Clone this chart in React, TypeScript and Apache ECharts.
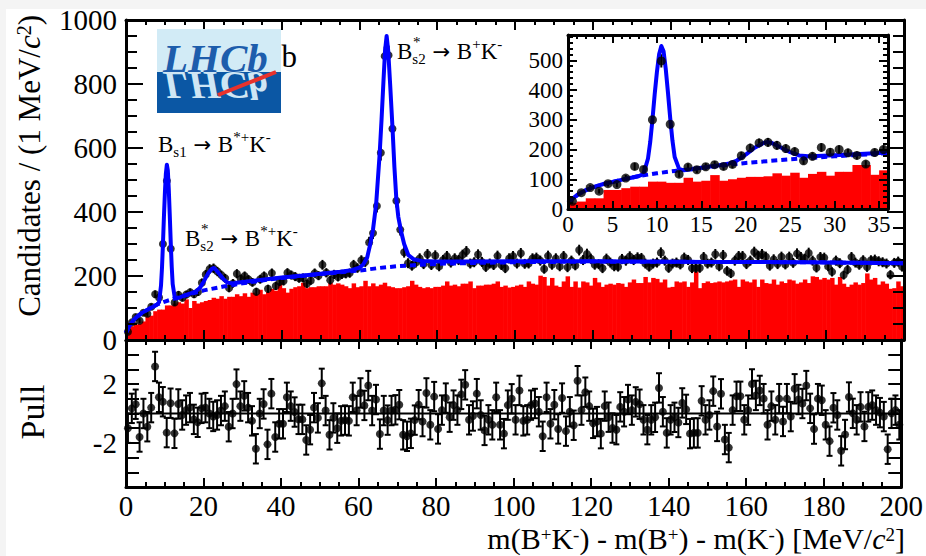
import React, { useEffect, useRef } from "react";
import * as echarts from "echarts";

const FF = "'Liberation Serif', 'Times New Roman', Times, serif";
const ARROW_FF = "'DejaVu Sans', sans-serif";

// Candidates per 1 MeV bin (bin i covers [i, i+1) MeV)
const binCounts: number[] = [
  26, 55, 72, 60, 85, 82, 104, 143, 133, 300,
  498, 285, 117, 141, 132, 142, 149, 143, 150, 179,
  205, 222, 224, 214, 203, 193, 162, 177, 207, 191,
  200, 189, 180, 151, 190, 200, 160, 209, 169, 182,
  184, 210, 203, 198, 193, 194, 176, 186, 209, 201,
  235, 210, 187, 205, 197, 205, 207, 209, 235, 225,
  249, 244, 305, 334, 419, 585, 887, 890, 660, 435,
  345, 274, 240, 232, 242, 255, 237, 268, 234, 264,
  230, 250, 262, 242, 255, 250, 266, 277, 239, 243,
  267, 244, 228, 239, 234, 263, 234, 224, 255, 262,
  239, 271, 238, 239, 255, 257, 248, 222, 263, 235,
  255, 230, 262, 227, 248, 233, 281, 250, 269, 254,
  235, 237, 224, 254, 242, 230, 229, 253, 248, 261,
  250, 258, 256, 239, 229, 239, 242, 273, 248, 225,
  239, 242, 236, 257, 250, 224, 225, 225, 259, 239,
  242, 268, 230, 265, 216, 208, 248, 262, 262, 237,
  248, 275, 263, 268, 260, 232, 252, 237, 260, 236,
  260, 241, 270, 259, 254, 272, 248, 226, 259, 257,
  230, 213, 248, 240, 203, 220, 259, 242, 235, 249,
  228, 249, 251, 246, 243, 239, 204, 241, 245, 229,
];

// Pull per bin
const pulls: number[] = [
  -1.0, 0.35, 0.63, -1.6, 0, -0.9, 0.4, 3.2, 1.1, 0.8,
  -1.3, 0.7, -1.35, 0.65, -0.1, 0.23, 0.4, -0.4, -0.6, 0.35,
  0.4, 0, -0.2, -0.1, 0.2, 0.5, -0.9, 0, 2.0, 0.5,
  1.2, 0.4, -0.5, -2.4, 0, 0.65, -2.1, 1.35, -1.6, -0.7,
  -0.7, 1.1, 0.5, 0.1, -0.4, -0.4, -1.8, -1.1, 0.4, -0.3,
  2.05, 0.2, -1.45, -0.3, -1.0, -0.5, -0.45, -0.5, 1.1, 0.2,
  1.4, 0.55, 1.9, 0.2, 0.95, -1.4, 0.2, -0.45, 0.2, 0.25,
  0.6, -1.45, -1.55, -1.35, -0.45, 0.6, -0.55, 1.4, -0.77, 1.15,
  -1.05, 0.23, 1.05, -0.25, 0.57, 0.23, 1.3, 1.95, -0.43, -0.17,
  1.35, -0.1, -1.15, -0.43, -0.77, 1.1, -0.77, -1.37, 0.57, 1.0,
  -0.43, 1.57, -0.5, -0.43, 0.57, 0.68, 0.12, -1.55, 1.1, -0.7,
  0.6, -1.05, 1.05, -1.2, 0.12, -0.8, 2.23, 0.23, 1.45, 0.5,
  -0.67, -0.55, -1.37, 0.5, -0.25, -0.99, -1.1, 0.45, 0.12, 0.95,
  0.23, 0.79, 0.63, -0.43, -1.1, -0.43, -0.26, 1.74, 0.12, -1.32,
  -0.43, -0.26, -0.61, 0.72, 0.28, -1.37, -1.32, -1.32, 0.86, -0.43,
  -0.1, 1.52, -0.88, 1.34, -1.77, -2.32, 0.23, 1.17, 1.17, -0.43,
  0.23, 2.01, 1.23, 1.57, 1.01, -0.77, 0.5, -0.43, 1.01, -0.54,
  1.01, -0.21, 1.68, 0.95, 0.68, 1.9, 0.35, -1.06, 1.01, 0.9,
  -0.77, -1.88, 0.39, -0.1, -2.54, -1.43, 1.12, 0.01, -0.43, 0.45,
  -0.88, 0.45, 0.57, 0.23, 0.06, -0.21, -2.43, 0.01, 0.23, -0.77,
];

// Red histogram (main panel)
const bkgHistMain: number[] = [
  27, 43, 48, 51, 58, 74, 76, 90, 95, 95,
  108, 108, 114, 118, 114, 127, 100, 122, 114, 118,
  122, 125, 132, 129, 137, 129, 135, 135, 143, 137,
  146, 135, 148, 143, 157, 143, 150, 160, 154, 177,
  162, 148, 160, 165, 168, 179, 162, 165, 165, 168,
  168, 168, 179, 173, 177, 173, 168, 162, 177, 165,
  168, 185, 168, 177, 168, 173, 179, 168, 165, 162,
  162, 165, 168, 185, 173, 166, 162, 165, 162, 166,
  166, 170, 183, 170, 173, 168, 176, 176, 183, 162,
  170, 170, 173, 173, 176, 183, 166, 170, 164, 166,
  170, 173, 166, 183, 176, 173, 201, 197, 170, 194,
  170, 166, 183, 199, 166, 183, 164, 183, 180, 170,
  194, 180, 166, 173, 176, 173, 178, 176, 166, 180,
  189, 178, 178, 197, 180, 194, 191, 180, 189, 164,
  166, 183, 180, 183, 166, 180, 214, 162, 178, 183,
  178, 180, 183, 180, 183, 186, 189, 166, 189, 183,
  180, 189, 166, 189, 178, 176, 189, 173, 183, 178,
  189, 186, 176, 180, 189, 178, 199, 197, 189, 194,
  189, 194, 173, 197, 176, 166, 173, 180, 173, 178,
  208, 189, 194, 173, 183, 176, 160, 162, 183, 168,
];

// Red histogram (inset, 0-36 MeV)
const bkgHistInset: number[] = [
  21, 25, 36, 36, 64, 64, 70, 75, 75, 92,
  92, 88, 88, 105, 92, 95, 114, 95, 100, 105,
  108, 108, 110, 120, 112, 122, 105, 118, 125, 112,
  125, 125, 148, 148, 115, 130,
];

// Total fit curve
const fitX: number[] = [
  0, 0.5, 1, 1.5, 2, 3, 4, 5, 6, 7, 8, 8.5, 9, 9.25, 9.5, 9.75, 10, 10.25, 10.5,
  10.75, 11, 11.25, 11.5, 11.75, 12, 12.5, 13, 14, 15, 16, 17, 18, 19, 20, 21, 22,
  22.5, 23, 24, 25, 26, 27, 28, 30, 35, 40, 45, 50, 55, 58, 60, 61, 62, 62.8, 63.5,
  64.3, 65.2, 65.7, 66.2, 66.6, 67.0, 67.4, 67.9, 68.5, 69.0, 69.5, 70.0, 70.7,
  71.5, 72.6, 74, 76, 80, 90, 100, 120, 150, 175, 200,
];
const fitY: number[] = [
  22, 35, 46, 55, 63, 75, 84, 91, 98, 104, 111, 118, 170, 225, 300, 385, 460, 520, 548,
  530, 470, 390, 305, 230, 175, 135, 130, 134, 139, 143, 147, 152, 163, 183, 206, 222,
  225, 221, 206, 191, 180, 177, 178, 181, 188, 195, 201, 207, 213, 218, 226, 236, 258, 300, 345,
  424, 580, 690, 812, 905, 950, 905, 800, 665, 540, 440, 385, 340,
  300, 265, 252, 247, 245, 245, 246, 246, 244, 243, 240,
];

// Background component (dashed)
const bkgX: number[] = [0, 1, 2, 4, 6, 8, 10, 12, 15, 20, 25, 30, 35, 40, 50, 60, 65, 70, 80, 90, 100, 120, 150, 175, 200];
const bkgY: number[] = [22, 46, 63, 84, 98, 111, 120, 128, 138, 155, 167, 177, 186, 194, 206, 217, 225, 231, 238, 241, 243, 245, 244, 243, 240];

const X_MIN = 0, X_MAX = 200, X_STEP = 20;
const Y_MIN = 0, Y_MAX = 1000, Y_STEP = 200;
const PULL_MIN = -5, PULL_MAX = 5;
const PULL_LABELS = [-2, 2];
const INSET_X_MAX = 36, INSET_X_STEP = 5;
const INSET_Y_MAX = 585, INSET_Y_STEP = 100;

const BLUE = "#0000ff";
const RED = "#ff0000";

function histRender(params: any, api: any) {
  const x0 = api.value(0);
  const x1 = api.value(1);
  const v = api.value(2);
  const p0 = api.coord([x0, 0]);
  const p1 = api.coord([x1, v]);
  return {
    type: "rect",
    shape: { x: p0[0], y: p1[1], width: p1[0] - p0[0] + 0.6, height: p0[1] - p1[1] },
    style: { fill: RED },
  };
}

function errRender(cap: number, lw: number) {
  return (params: any, api: any) => {
    const x = api.value(0);
    const lo = api.coord([x, api.value(1)]);
    const hi = api.coord([x, api.value(2)]);
    const st = { stroke: "#000", lineWidth: lw };
    const children: any[] = [
      { type: "line", shape: { x1: lo[0], y1: lo[1], x2: hi[0], y2: hi[1] }, style: st },
    ];
    if (cap > 0) {
      children.push({ type: "line", shape: { x1: lo[0] - cap, y1: lo[1], x2: lo[0] + cap, y2: lo[1] }, style: st });
      children.push({ type: "line", shape: { x1: hi[0] - cap, y1: hi[1], x2: hi[0] + cap, y2: hi[1] }, style: st });
    }
    return { type: "group", children };
  };
}

const blackLine = { color: "#000", width: 3 };
const tickLine = { color: "#000", width: 2 };

function axis(extra: any) {
  return {
    type: "value",
    axisLine: { show: true, onZero: false, lineStyle: blackLine },
    splitLine: { show: false },
    axisLabel: { show: false },
    ...extra,
  };
}

function richSet(size: number, small: number, lh: number) {
  return {
    n: { fontSize: size, fontFamily: FF, fill: "#000", lineHeight: lh },
    i: { fontSize: size, fontFamily: FF, fontStyle: "italic", fill: "#000", lineHeight: lh },
    ar: { fontSize: size * 0.92, fontFamily: ARROW_FF, fill: "#000", lineHeight: lh },
    sup: { fontSize: small, fontFamily: FF, fill: "#000", verticalAlign: "top", lineHeight: small + 2 },
    sub: { fontSize: small, fontFamily: FF, fill: "#000", verticalAlign: "bottom", lineHeight: small + 2 },
  };
}

function buildOption() {
  const mainPts = binCounts.map((n, i) => [i + 0.5, n]);
  const mainErr = binCounts.map((n, i) => [i + 0.5, n - Math.sqrt(n), n + Math.sqrt(n)]);
  const pullPts = pulls.map((p, i) => [i + 0.5, p]);
  const pullErr = pulls.map((p, i) => [i + 0.5, p - 1, p + 1]);
  const fitData = fitX.map((x, i) => [x, fitY[i]]);
  const bkgData = bkgX.map((x, i) => [x, bkgY[i]]);
  const histMain = bkgHistMain.map((v, i) => [i, i + 1, v]);
  const histInset = bkgHistInset.map((v, i) => [i, i + 1, v]);
  const insetPts = mainPts.slice(0, INSET_X_MAX);
  const insetErr = mainErr.slice(0, INSET_X_MAX);

  const labelMain = { show: true, fontSize: 29, fontFamily: FF, color: "#000", lineHeight: 26 };
  const labelInset = { show: true, fontSize: 23, fontFamily: FF, color: "#000", lineHeight: 21 };

  const mainX = {
    gridIndex: 0, min: X_MIN, max: X_MAX, interval: X_STEP, z: 4,
    axisTick: { show: true, inside: true, length: 10, lineStyle: tickLine },
    minorTick: { show: true, splitNumber: 4, length: 5, lineStyle: tickLine },
  };
  const pullX = {
    gridIndex: 1, min: X_MIN, max: X_MAX, interval: X_STEP, z: 4,
    axisTick: { show: true, inside: true, length: 9, lineStyle: tickLine },
    minorTick: { show: true, splitNumber: 4, length: 5, lineStyle: tickLine },
  };
  const mainY = {
    gridIndex: 0, min: Y_MIN, max: Y_MAX, interval: Y_STEP, z: 4,
    axisTick: { show: true, inside: true, length: 17, lineStyle: tickLine },
    minorTick: { show: true, splitNumber: 4, length: 11, lineStyle: tickLine },
  };
  const pullY = {
    gridIndex: 1, min: PULL_MIN, max: PULL_MAX, interval: 1, z: 4,
    axisTick: { show: true, inside: true, length: 13, lineStyle: tickLine },
  };
  const insetX = {
    gridIndex: 2, min: 0, max: INSET_X_MAX, interval: INSET_X_STEP, z: 8,
    axisTick: { show: true, inside: true, length: 8, lineStyle: tickLine },
    minorTick: { show: true, splitNumber: 5, length: 4, lineStyle: tickLine },
  };
  const insetY = {
    gridIndex: 2, min: 0, max: INSET_Y_MAX, interval: INSET_Y_STEP, z: 8,
    axisTick: { show: true, inside: true, length: 9, lineStyle: tickLine },
    minorTick: { show: true, splitNumber: 5, length: 5, lineStyle: tickLine },
  };

  const r23 = richSet(23, 15, 30);
  const r31 = richSet(31, 20, 31);
  const r30t = richSet(30, 19, 26);

  return {
    animation: false,
    grid: [
      { left: 126, top: 20, width: 778, height: 320, show: false },
      { left: 126, top: 340, width: 778, height: 147, show: false },
      { left: 568, top: 35, width: 320, height: 174, show: true, backgroundColor: "#fff", borderWidth: 0, z: 6 },
    ],
    xAxis: [
      axis({ ...mainX, position: "bottom" }),
      axis({ ...mainX, position: "top" }),
      axis({
        ...pullX, position: "bottom",
        axisLabel: { ...labelMain, margin: 6, formatter: (v: number) => String(v) },
      }),
      axis({ ...pullX, position: "top" }),
      axis({
        ...insetX, position: "bottom",
        axisLabel: { ...labelInset, margin: 5, formatter: (v: number) => (v % INSET_X_STEP === 0 ? String(v) : "") },
      }),
      axis({ ...insetX, position: "top" }),
    ],
    yAxis: [
      axis({ ...mainY, position: "left", axisLabel: { ...labelMain, margin: 9, formatter: (v: number) => String(v) } }),
      axis({ ...mainY, position: "right" }),
      axis({
        ...pullY, position: "left",
        axisLabel: { ...labelMain, margin: 9, formatter: (v: number) => (PULL_LABELS.includes(v) ? String(v) : "") },
      }),
      axis({ ...pullY, position: "right" }),
      axis({
        ...insetY, position: "left",
        axisLabel: { ...labelInset, margin: 5, formatter: (v: number) => (v % INSET_Y_STEP === 0 ? String(v) : "") },
      }),
      axis({ ...insetY, position: "right" }),
    ],
    series: [
      // main panel
      { type: "custom", xAxisIndex: 0, yAxisIndex: 0, z: 2, clip: true, silent: true,
        data: histMain, encode: { x: [0, 1], y: 2 }, renderItem: histRender },
      { type: "custom", xAxisIndex: 0, yAxisIndex: 0, z: 2, clip: true, silent: true,
        data: mainErr, encode: { x: 0, y: [1, 2] }, renderItem: errRender(0, 2) },
      { type: "scatter", xAxisIndex: 0, yAxisIndex: 0, z: 2, silent: true,
        data: mainPts, symbol: "circle", symbolSize: 8, itemStyle: { color: "#000" } },
      { type: "line", xAxisIndex: 0, yAxisIndex: 0, z: 3, silent: true, data: bkgData, symbol: "none",
        lineStyle: { color: BLUE, width: 4, type: [6, 4] } },
      { type: "line", xAxisIndex: 0, yAxisIndex: 0, z: 3, silent: true, data: fitData, symbol: "none",
        lineStyle: { color: BLUE, width: 4, join: "round" } },
      // pull panel
      { type: "line", xAxisIndex: 2, yAxisIndex: 2, z: 2, silent: true, data: [[X_MIN, 0], [X_MAX, 0]], symbol: "none",
        lineStyle: { color: "#000", width: 2 } },
      { type: "custom", xAxisIndex: 2, yAxisIndex: 2, z: 2, clip: true, silent: true,
        data: pullErr, encode: { x: 0, y: [1, 2] }, renderItem: errRender(3, 2) },
      { type: "scatter", xAxisIndex: 2, yAxisIndex: 2, z: 2, silent: true,
        data: pullPts, symbol: "circle", symbolSize: 8, itemStyle: { color: "#000" } },
      // inset
      { type: "custom", xAxisIndex: 4, yAxisIndex: 4, z: 7, clip: true, silent: true,
        data: histInset, encode: { x: [0, 1], y: 2 }, renderItem: histRender },
      { type: "custom", xAxisIndex: 4, yAxisIndex: 4, z: 7, clip: true, silent: true,
        data: insetErr, encode: { x: 0, y: [1, 2] }, renderItem: errRender(0, 2) },
      { type: "scatter", xAxisIndex: 4, yAxisIndex: 4, z: 7, silent: true,
        data: insetPts, symbol: "circle", symbolSize: 9, itemStyle: { color: "#000" } },
      { type: "line", xAxisIndex: 4, yAxisIndex: 4, z: 7, silent: true, data: bkgData, symbol: "none",
        lineStyle: { color: BLUE, width: 4, type: [6, 4] } },
      { type: "line", xAxisIndex: 4, yAxisIndex: 4, z: 7, silent: true, data: fitData, symbol: "none",
        lineStyle: { color: BLUE, width: 4, join: "round" } },
    ],
    graphic: [
      // the end of the plain "LHCb" label peeking out from behind the logo
      { type: "text", x: 297, y: 56, z: 100,
        style: { text: "b", fontSize: 31, fontFamily: FF, fill: "#000", align: "right", verticalAlign: "middle" } },
      { type: "rect", z: 101, shape: { x: 157, y: 29, width: 124, height: 43 }, style: { fill: "#d2ebf6" } },
      { type: "rect", z: 101, shape: { x: 157, y: 72, width: 124, height: 41 }, style: { fill: "#0b57a4" } },
      { type: "text", x: 163, y: 58, z: 102,
        style: { text: "LHCb", fontSize: 41, fontFamily: FF, fontStyle: "italic", fontWeight: "bold", fill: "#1d5dac", align: "left", verticalAlign: "middle" } },
      { type: "text", x: 163, y: 86, z: 102, scaleY: -1,
        style: { text: "LHCb", fontSize: 41, fontFamily: FF, fontStyle: "italic", fontWeight: "bold", fill: "#cfe6f4", align: "left", verticalAlign: "middle" } },
      { type: "line", z: 103, shape: { x1: 218, y1: 95, x2: 276, y2: 72 }, style: { stroke: "#e8322c", lineWidth: 4 } },

      // annotations
      { type: "text", x: 158, y: 129, z: 100,
        style: { text: "{n|B}{sub|s1}{ar| → }{n|B}{sup|*+}{n|K}{sup|-}", rich: r23, align: "left", verticalAlign: "top" } },
      { type: "text", x: 185, y: 223, z: 100,
        style: { text: "{n|B}{sub|s2}{ar| → }{n|B}{sup|*+}{n|K}{sup|-}", rich: r23, align: "left", verticalAlign: "top" } },
      { type: "text", x: 201, y: 221, z: 100,
        style: { text: "*", fontSize: 15, fontFamily: FF, fill: "#000", align: "left", verticalAlign: "top" } },
      { type: "text", x: 397, y: 36, z: 100,
        style: { text: "{n|B}{sub|s2}{ar| → }{n|B}{sup|+}{n|K}{sup|-}", rich: r23, align: "left", verticalAlign: "top" } },
      { type: "text", x: 413, y: 34, z: 100,
        style: { text: "*", fontSize: 15, fontFamily: FF, fill: "#000", align: "left", verticalAlign: "top" } },

      // axis titles
      { type: "text", x: 905, y: 525, z: 100,
        style: {
          text: "{n|m(B}{sup|+}{n|K}{sup|-}{n|) - m(B}{sup|+}{n|) - m(K}{sup|-}{n|) [MeV/}{i|c}{sup|2}{n|]}",
          rich: r30t, align: "right", verticalAlign: "top",
        } },
      { type: "text", x: 29, y: 15, z: 100, rotation: Math.PI / 2,
        style: {
          text: "{n|Candidates / (1 MeV/}{i|c}{sup|2}{n|)}",
          rich: r31, align: "right", verticalAlign: "middle",
        } },
      { type: "text", x: 32, y: 412, z: 100, rotation: Math.PI / 2,
        style: { text: "Pull", fontSize: 34, fontFamily: FF, fill: "#000", align: "center", verticalAlign: "middle" } },
    ],
  };
}

export default function App() {
  const ref = useRef<HTMLDivElement>(null);
  useEffect(() => {
    if (!ref.current) return;
    const chart = echarts.init(ref.current, null, { renderer: "svg" });
    chart.setOption(buildOption() as any);
    return () => chart.dispose();
  }, []);
  return (
    <div style={{ position: "absolute", left: 0, top: 0, width: 926, height: 556, background: "#f4f4f4" }}>
      <div style={{ position: "absolute", left: 6, top: 9, width: 920, height: 547, background: "#fff" }} />
      <div ref={ref} style={{ position: "absolute", left: 0, top: 0, width: 926, height: 556 }} />
    </div>
  );
}
